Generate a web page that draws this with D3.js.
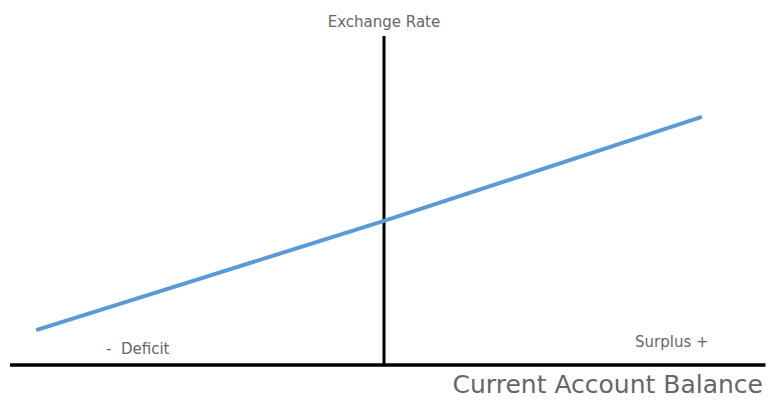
<!DOCTYPE html>
<html>
<head>
<meta charset="utf-8">
<script src="https://cdn.jsdelivr.net/npm/d3@7"></script>
<style>
  body { margin: 0; background: #fff; }
  text { font-family: "DejaVu Sans", Verdana, sans-serif; fill: #666; }
</style>
</head>
<body>
<div id="chart"></div>
<script>
// balance (x) vs exchange rate (y)
const balance = [-93, 0, 85];
const rate = [10.6, 43.8, 75.4];
const xExtent = [-100, 102];
const yExtent = [0, 100];

const width = 770, height = 400;

const svg = d3.select("#chart")
    .append("svg")
    .attr("width", width)
    .attr("height", height);

const x = d3.scaleLinear().domain([-100, 100]).range([10, 758]);
const y = d3.scaleLinear().domain(yExtent).range([365, 36]);

// axes as plain lines through the origin
svg.append("line")
    .attr("x1", x(xExtent[0])).attr("x2", x(xExtent[1]))
    .attr("y1", y(0)).attr("y2", y(0))
    .attr("stroke", "#000")
    .attr("stroke-width", 3.5);

svg.append("line")
    .attr("x1", x(0)).attr("x2", x(0))
    .attr("y1", y(yExtent[1])).attr("y2", y(0))
    .attr("stroke", "#000")
    .attr("stroke-width", 3);

const pts = balance.map((b, i) => [b, rate[i]]);
svg.append("path")
    .datum(pts)
    .attr("d", d3.line().x(d => x(d[0])).y(d => y(d[1])))
    .attr("fill", "none")
    .attr("stroke", "#5b9bd5")
    .attr("stroke-width", 4);

// labels
svg.append("text")
    .attr("x", x(0)).attr("y", 27)
    .attr("text-anchor", "middle")
    .style("font-size", "15px")
    .text("Exchange Rate");

svg.append("text")
    .attr("x", 106).attr("y", 354)
    .style("font-size", "15px")
    .style("white-space", "pre")
    .text("-  Deficit");

svg.append("text")
    .attr("x", 635).attr("y", 347)
    .style("font-size", "15px")
    .text("Surplus +");

svg.append("text")
    .attr("x", 763).attr("y", 393)
    .attr("text-anchor", "end")
    .style("font-size", "25px")
    .text("Current Account Balance");
</script>
</body>
</html>
